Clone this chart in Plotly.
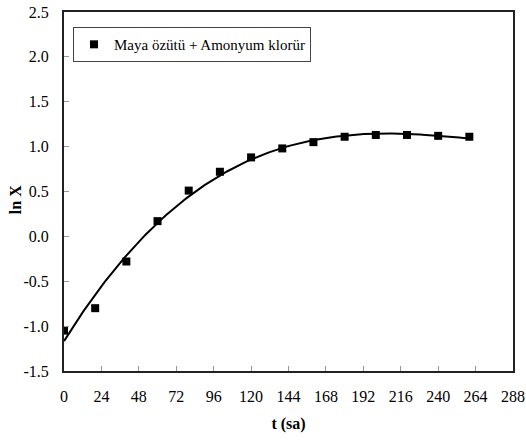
import numpy as np
import plotly.graph_objects as go

# Sampling times (hours) and measured ln X values
t_hours = [0, 20, 40, 60, 80, 100, 120, 140, 160, 180, 200, 220, 240, 260]
ln_x = [-1.05, -0.80, -0.28, 0.17, 0.51, 0.72, 0.88, 0.98, 1.05, 1.11, 1.13, 1.13, 1.12, 1.11]

series_name = "Maya özütü + Amonyum klorür"
x_ticks = list(range(0, 289, 24))
y_ticks = [-1.5, -1.0, -0.5, 0.0, 0.5, 1.0, 1.5, 2.0, 2.5]
y_tick_text = ["-1.5", "-1.0", "-0.5", "0.0", "0.5", "1.0", "1.5", "2.0", "2.5"]

# Polynomial trendline fitted to the measurements
coef = np.polyfit(t_hours, ln_x, 3)
t_fit = np.linspace(min(t_hours), max(t_hours), 200)
y_fit = np.polyval(coef, t_fit)

serif = "Liberation Serif"

fig = go.Figure()
fig.add_trace(go.Scatter(
    x=t_fit, y=y_fit, mode="lines",
    line=dict(color="black", width=2),
    showlegend=False, hoverinfo="skip",
))
fig.add_trace(go.Scatter(
    x=t_hours, y=ln_x, mode="markers", name=series_name,
    marker=dict(symbol="square", size=8, color="black"),
))

fig.update_layout(
    width=526, height=440,
    margin=dict(l=64, r=13, t=12, b=69),
    paper_bgcolor="white", plot_bgcolor="white",
    font=dict(family=serif, size=16, color="black"),
    legend=dict(
        x=0.02, y=0.958, xanchor="left", yanchor="top",
        bordercolor="#444", borderwidth=1, bgcolor="white",
        font=dict(family=serif, size=15, color="black"),
        itemwidth=30,
    ),
    xaxis=dict(
        range=[0, 288], tickvals=x_ticks,
        showgrid=False, zeroline=False, automargin=False,
        showline=True, linecolor="#222", linewidth=2, mirror=True,
        ticks="inside", ticklen=5, tickcolor="#999", tickwidth=1,
        ticklabelstandoff=10,
        tickfont=dict(family=serif, size=16),
        title=dict(text="<b>t (sa)</b>", font=dict(family=serif, size=16), standoff=14),
    ),
    yaxis=dict(
        range=[-1.5, 2.5], tickvals=y_ticks, ticktext=y_tick_text,
        showgrid=False, zeroline=False, automargin=False,
        showline=True, linecolor="#222", linewidth=2, mirror=True,
        ticks="inside", ticklen=5, tickcolor="#999", tickwidth=1,
        ticklabelstandoff=10,
        tickfont=dict(family=serif, size=16),
    ),
    annotations=[dict(
        text="<b>ln X</b>", textangle=-90,
        xref="paper", yref="paper", x=-0.109, y=0.476,
        xanchor="center", yanchor="middle", showarrow=False,
        font=dict(family=serif, size=16, color="black"),
    )],
)

fig.write_html("out.html")
